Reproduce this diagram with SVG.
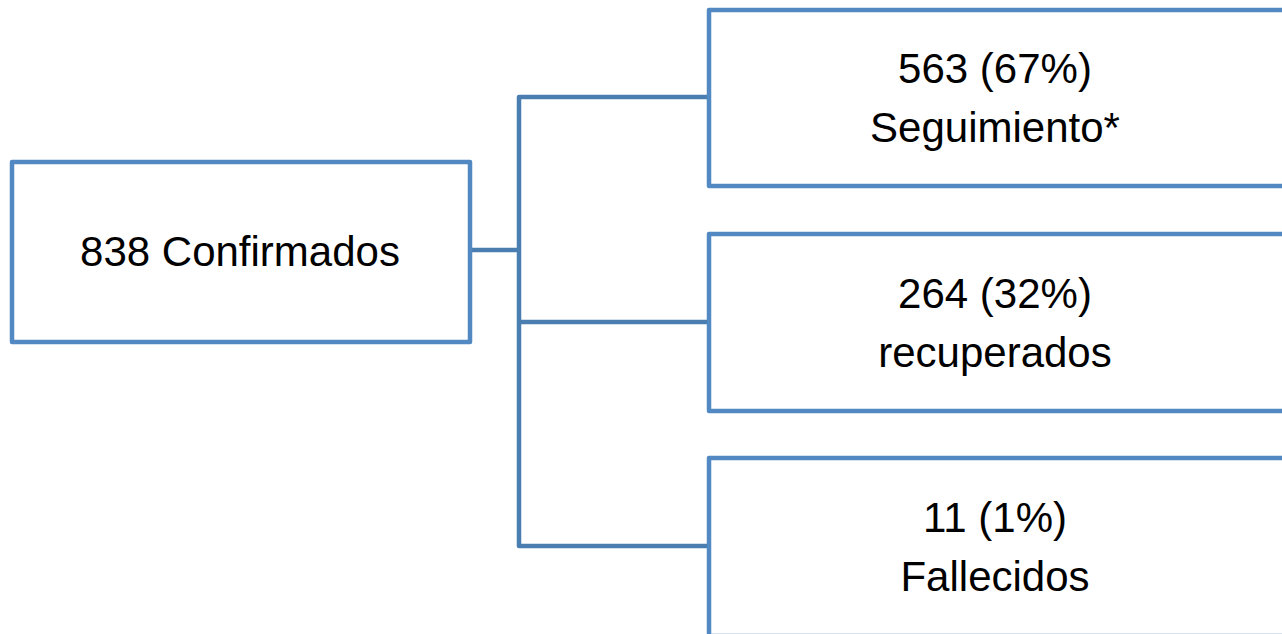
<svg xmlns="http://www.w3.org/2000/svg" width="1282" height="634" viewBox="0 0 1282 634">
<style>
.box{fill:#ffffff;stroke:#5289C2;stroke-width:4.5;stroke-linejoin:round}
.conn{fill:none;stroke:#4A7DB0;stroke-width:4.5;stroke-linejoin:round}
.t{font-family:"Liberation Sans",Arial,sans-serif;font-size:42px;fill:#000000;text-anchor:middle}
</style>
<rect width="1282" height="634" fill="#ffffff"/>
<g id="connectors">
<path class="conn" d="M470,250 H519"/>
<path class="conn" d="M709,97 H519 V546 H709"/>
<path class="conn" d="M519,322 H709"/>
</g>
<g id="node-confirmados">
<rect class="box" x="12" y="162" width="458" height="180"/>
<text class="t" x="240" y="266">838 Confirmados</text>
</g>
<g id="node-seguimiento">
<rect class="box" x="709" y="10" width="576" height="176"/>
<text class="t" x="995" y="83">563 (67%)</text>
<text class="t" x="995" y="142">Seguimiento*</text>
</g>
<g id="node-recuperados">
<rect class="box" x="709" y="234" width="576" height="177"/>
<text class="t" x="995" y="308">264 (32%)</text>
<text class="t" x="995" y="367">recuperados</text>
</g>
<g id="node-fallecidos">
<rect class="box" x="709" y="458" width="576" height="178"/>
<text class="t" x="995" y="532">11 (1%)</text>
<text class="t" x="995" y="591">Fallecidos</text>
</g>
</svg>
